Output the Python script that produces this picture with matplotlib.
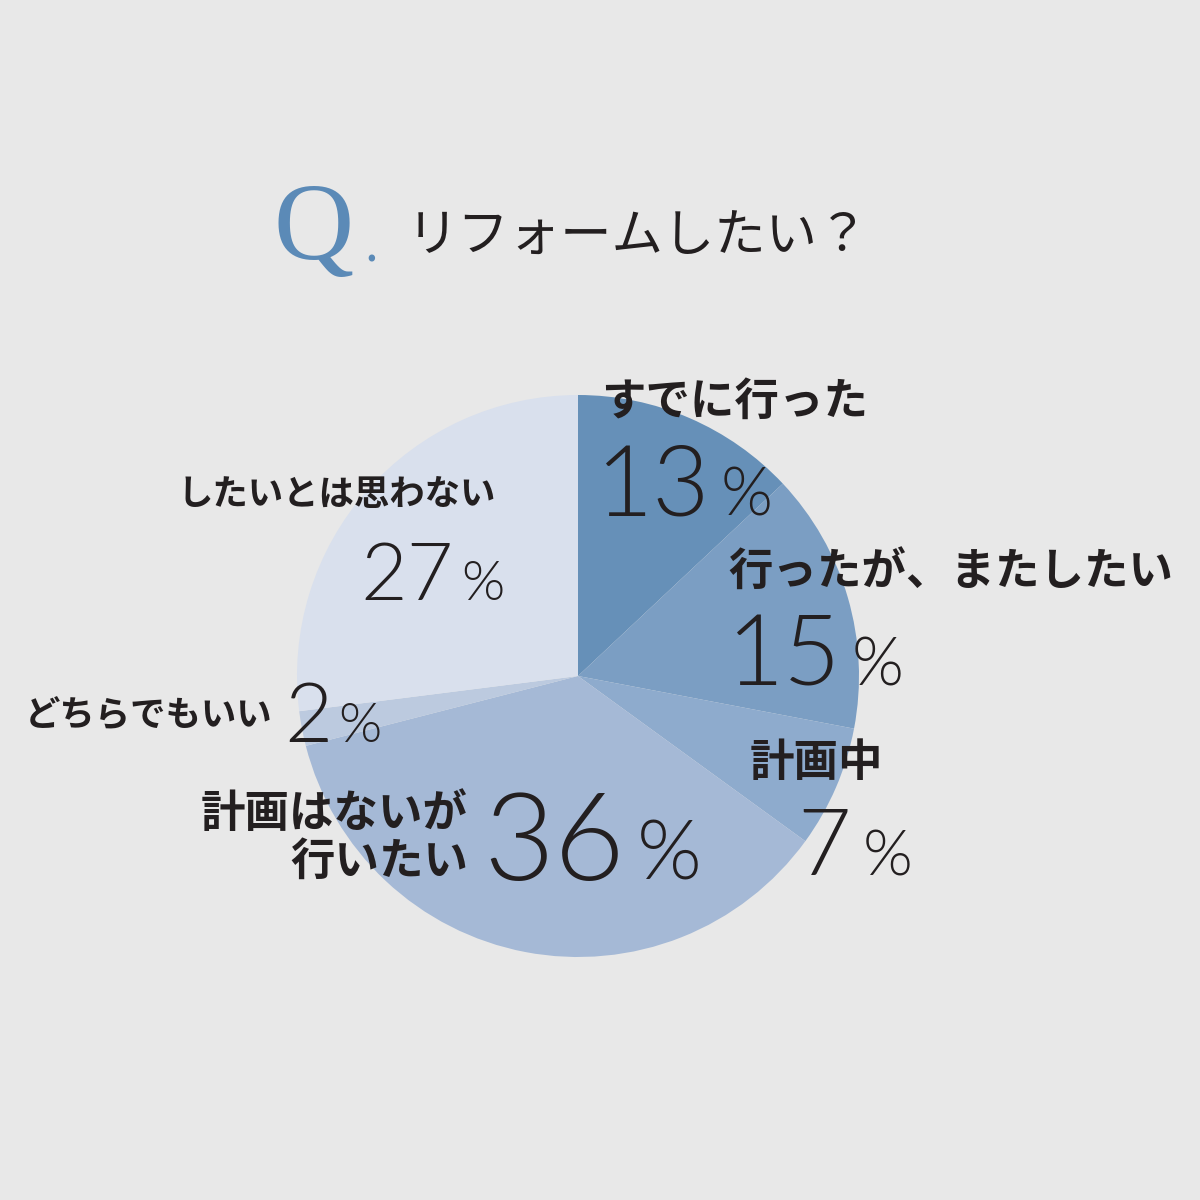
import matplotlib
matplotlib.use("Agg")
import matplotlib.pyplot as plt
from matplotlib import font_manager as fm

# ── data ───────────────────────────────────────────────────────────────────
labels = ["すでに行った", "行ったが、またしたい", "計画中",
          "計画はないが\n行いたい", "どちらでもいい", "したいとは思わない"]
values = [13, 15, 7, 36, 2, 27]
colors = ["#6690b8", "#7b9ec3", "#8eabcd", "#a5b9d6", "#bccadf", "#d9e0ed"]
title_q = "Q"
title_text = "リフォームしたい？"

BG = "#e8e8e8"
INK = "#231f20"
JP = ["Noto Sans CJK JP", "DejaVu Sans"]
names = {f.name for f in fm.fontManager.ttflist}
NUM = "Lato" if "Lato" in names else "DejaVu Sans"

fig = plt.figure(figsize=(12, 12), dpi=100, facecolor=BG)
ax = fig.add_axes([0, 0, 1, 1])
ax.set_xlim(0, 1200)
ax.set_ylim(0, 1200)
ax.set_aspect("equal")
ax.axis("off")


def Y(y):
    # picture row -> axes y
    return 1200 - y


ax.pie(values, colors=colors, startangle=90, counterclock=False,
       center=(578, Y(676)), radius=281, wedgeprops=dict(linewidth=0))
ax.set_xlim(0, 1200)
ax.set_ylim(0, 1200)

# ── title ──────────────────────────────────────────────────────────────────
ax.text(274, Y(259), title_q, fontsize=80, family="Liberation Serif",
        color="#5b8ab7", ha="left", va="baseline")
ax.text(364, Y(262), ".", fontsize=40, family="Liberation Serif",
        color="#5b8ab7", ha="left", va="baseline")
ax.text(407, Y(237), title_text, fontsize=37, family=JP, color=INK,
        ha="left", va="center")


# ── labels ─────────────────────────────────────────────────────────────────
def cat(x, y, s, size, ha="left"):
    ax.text(x, Y(y), s, fontsize=size, family=JP, fontweight="bold",
            color=INK, ha=ha, va="center", linespacing=1.05)


def pct(x, base, v, size, psize, gap):
    t = ax.text(x, Y(base), str(v), fontsize=size, family=NUM,
                fontweight=300, color=INK, ha="left", va="baseline")
    fig.canvas.draw()
    bb = t.get_window_extent()
    ax.text(bb.x1 + gap, Y(base), "%", fontsize=psize, family=NUM,
            fontweight=300, color=INK, ha="left", va="baseline")


cat(601, 402, labels[0], 32)
pct(596, 515, values[0], 71, 48, 10)

cat(728, 573, labels[1], 32)
pct(727, 685, values[1], 71, 48, 10)

cat(750, 763, labels[2], 32)
pct(797, 875, values[2], 67, 46, 12)

cat(468, 838, labels[3], 32, ha="right")
pct(483, 880, values[3], 88, 60, 12)

cat(25, 716, labels[4], 25.5)
pct(284, 742, values[4], 60, 40, 6)

cat(178, 494, labels[5], 25.5)
pct(360, 600, values[5], 58, 40, 8)

fig.savefig("out.png", dpi=100, facecolor=BG)
